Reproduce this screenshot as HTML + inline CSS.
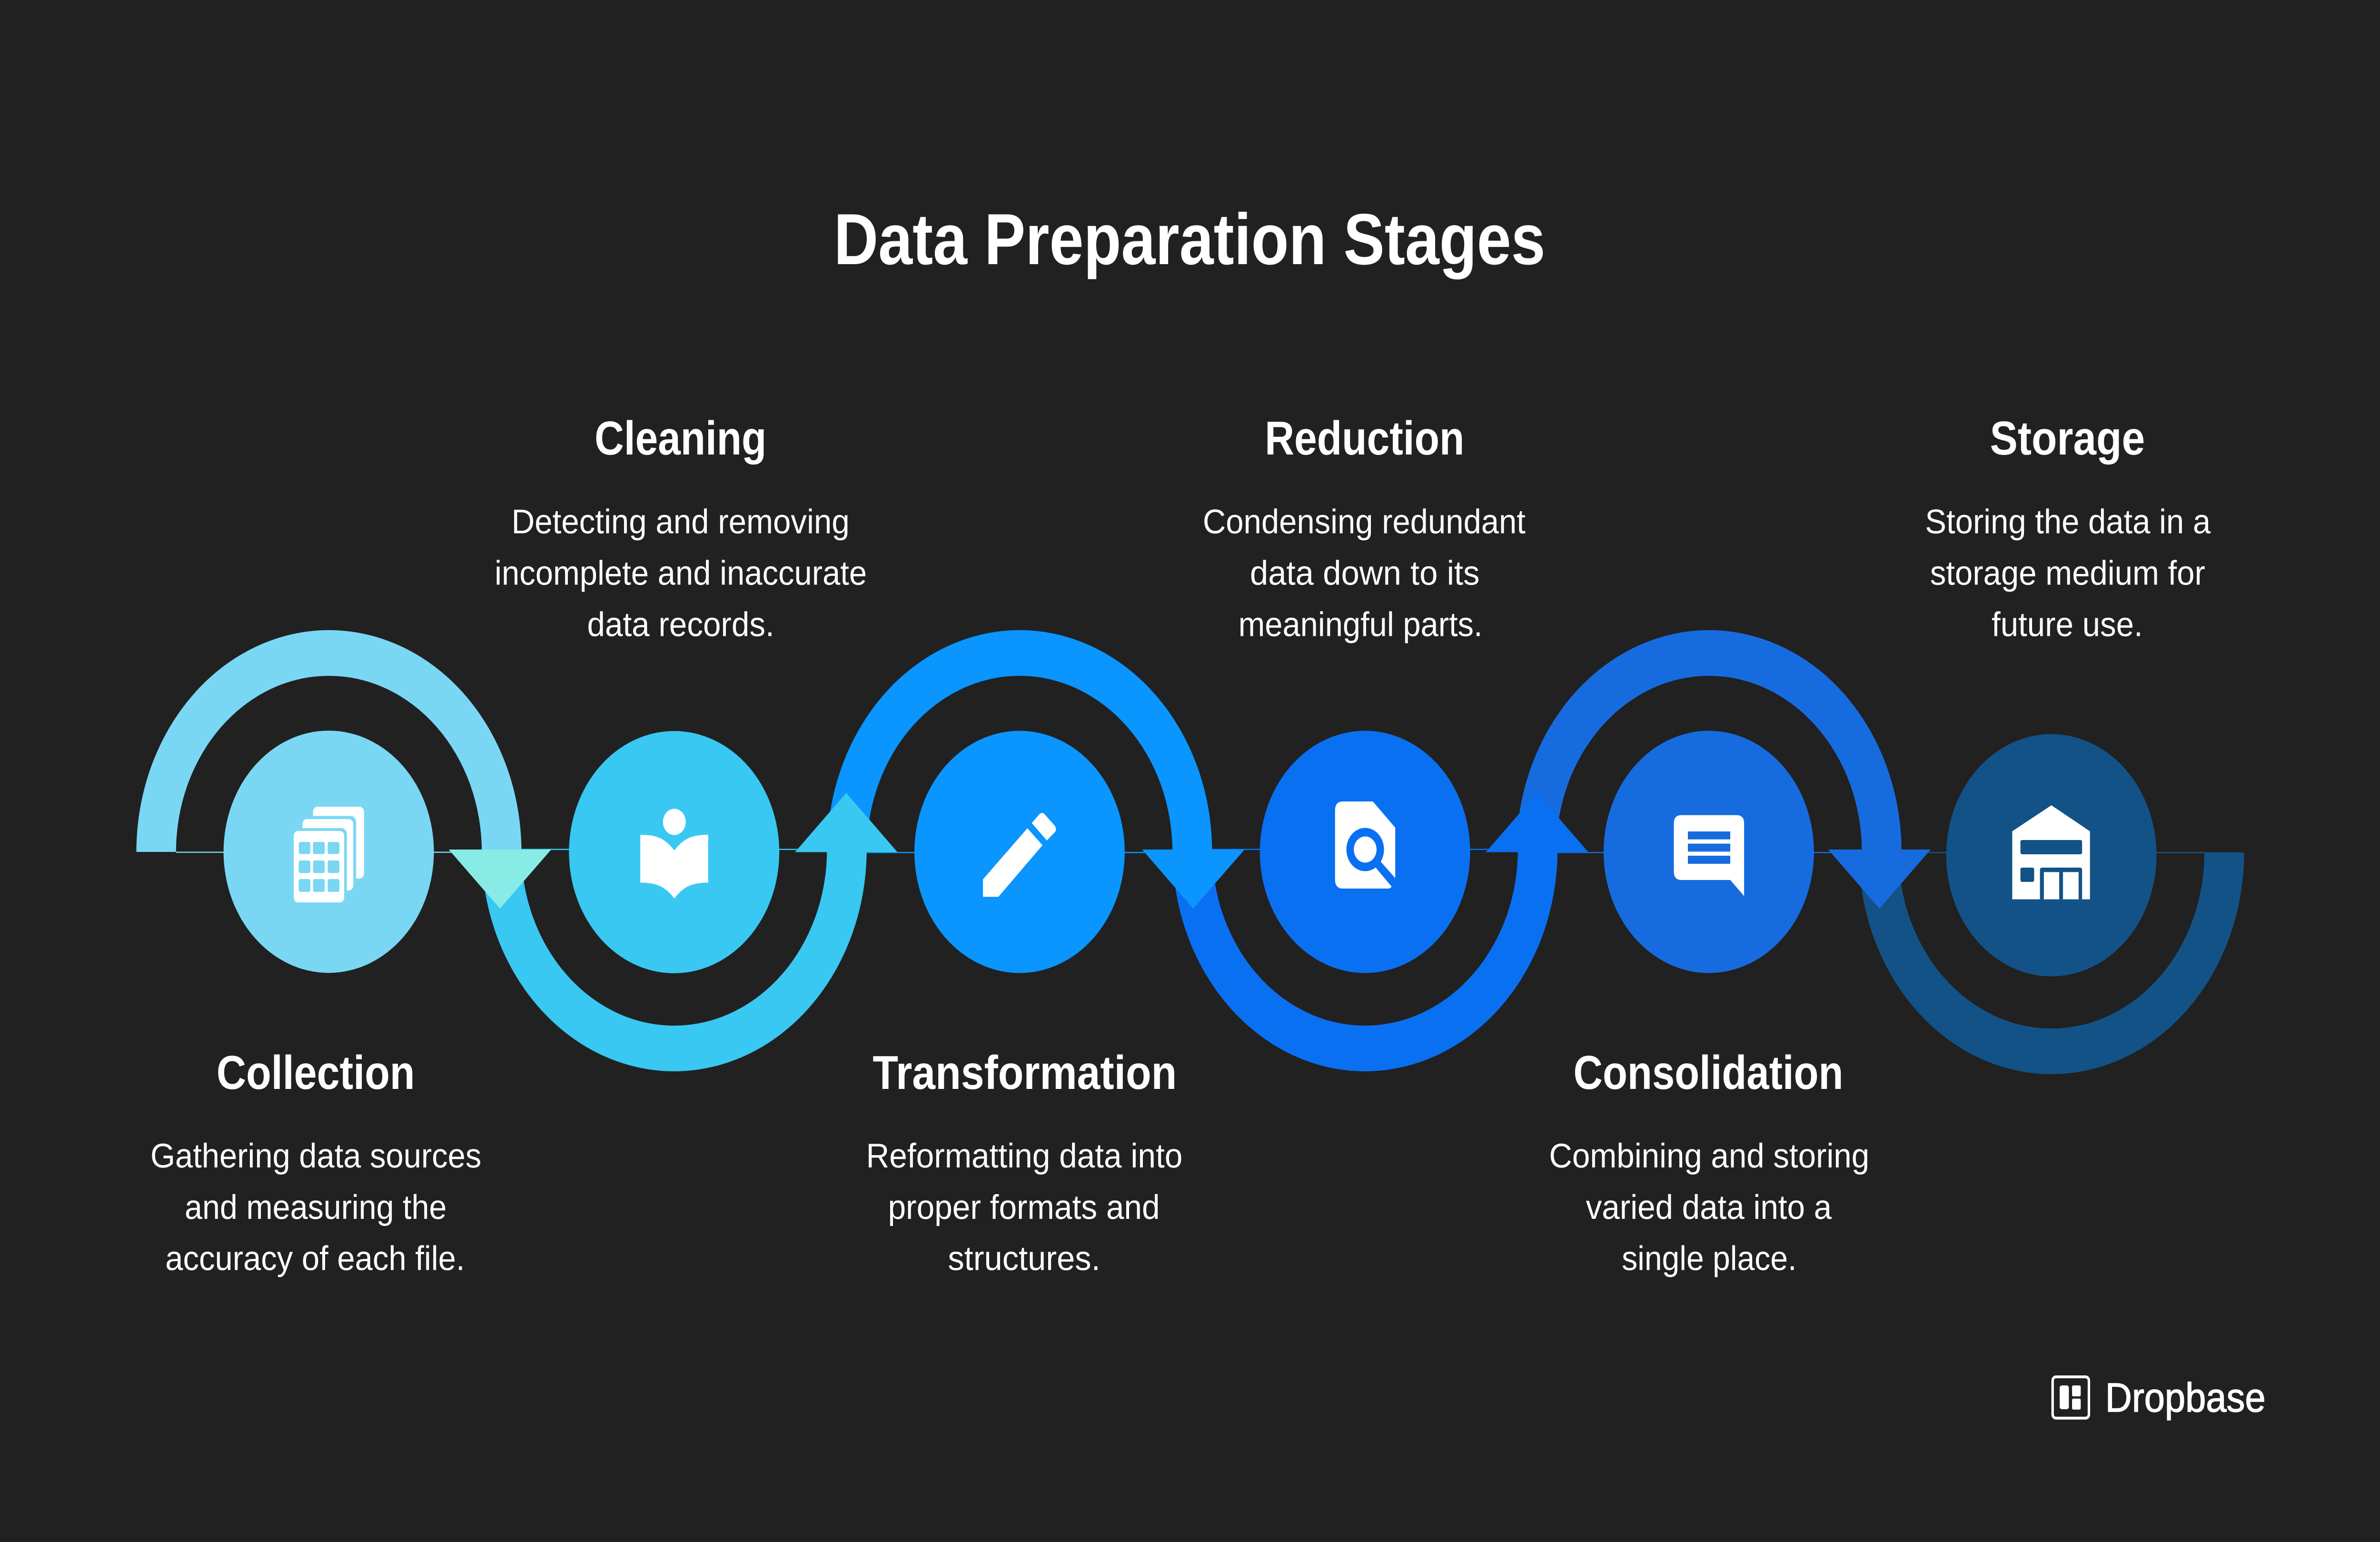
<!DOCTYPE html>
<html lang="en">
<head>
<meta charset="utf-8">
<title>Data Preparation Stages</title>
<style>
html,body{margin:0;padding:0;width:100%;height:100%;background:#212121;overflow:hidden}
svg{display:block;position:fixed;left:0;top:0;width:100vw;height:100vh}
text{font-family:"Liberation Sans",Arial,sans-serif;fill:#fff;text-rendering:geometricPrecision}
.t{font-size:152px;font-weight:700}
.h{font-size:100px;font-weight:700}
.b{font-size:72px;font-weight:400}
.l{font-size:86px;font-weight:400;stroke:#fff;stroke-width:1.5px}
</style>
</head>
<body>
<svg viewBox="0 0 5760 3240" preserveAspectRatio="none" xmlns="http://www.w3.org/2000/svg">
<rect width="5760" height="3240" fill="#212121"/>

<!-- arcs -->
<path fill="#135286" d="M4499,1791 A466,466 0 0 0 5431,1791 L5335,1791 A370,370 0 0 1 4595,1791 Z"/>
<rect x="4595" y="1790" width="740" height="2.5" fill="#135286"/>
<path fill="#166CDF" d="M3670,1790 A466,466 0 0 1 4602,1790 L4506,1790 A370,370 0 0 0 3766,1790 Z"/>
<rect x="3766" y="1790" width="740" height="2.5" fill="#166CDF"/>
<path fill="#0A70F2" d="M2837.5,1785 A466,466 0 0 0 3769.5,1785 L3673.5,1785 A370,370 0 0 1 2933.5,1785 Z"/>
<rect x="2933.5" y="1783.5" width="740" height="2.5" fill="#0A70F2"/>
<path fill="#0A95FF" d="M2001.5,1790 A466,466 0 0 1 2933.5,1790 L2837.5,1790 A370,370 0 0 0 2097.5,1790 Z"/>
<rect x="2097.5" y="1790" width="740" height="2.5" fill="#0A95FF"/>
<path fill="#38C8F2" d="M1165.5,1785 A466,466 0 0 0 2097.5,1785 L2001.5,1785 A370,370 0 0 1 1261.5,1785 Z"/>
<rect x="1261.5" y="1783.5" width="740" height="2.5" fill="#38C8F2"/>
<path fill="#7AD7F4" d="M330,1790 A466,466 0 0 1 1262,1790 L1166,1790 A370,370 0 0 0 426,1790 Z"/>
<rect x="426" y="1789.5" width="740" height="2.5" fill="#7AD7F4"/>

<!-- circles -->
<circle cx="795.5" cy="1789.7" r="254.5" fill="#7AD7F4"/>
<circle cx="1631.5" cy="1790.5" r="254.5" fill="#38C8F2"/>
<circle cx="2467.5" cy="1790" r="254.5" fill="#0A95FF"/>
<circle cx="3303.5" cy="1790" r="254.5" fill="#0A70F2"/>
<circle cx="4135.5" cy="1790" r="254.5" fill="#166CDF"/>
<circle cx="4964.6" cy="1797" r="254.5" fill="#135286"/>

<!-- arrowheads -->
<polygon fill="#88EBE6" points="1086,1785 1334,1785 1210,1909"/>
<polygon fill="#38C8F2" points="1924,1790.5 2172,1790.5 2048,1666"/>
<polygon fill="#0A95FF" points="2764,1785 3012,1785 2888,1909"/>
<polygon fill="#0A70F2" points="3596,1790.5 3844,1790.5 3720,1666.5"/>
<polygon fill="#166CDF" points="4424.5,1785 4672.5,1785 4548.5,1909"/>

<!-- icon 1 -->
<rect x="757.5" y="1695" width="123.5" height="151" rx="11" fill="#fff"/>
<rect x="722" y="1714.5" width="140" height="170" rx="13" fill="#7AD7F4"/>
<rect x="732" y="1721" width="123" height="150" rx="11" fill="#fff"/>
<rect x="700" y="1740" width="139.5" height="170" rx="13" fill="#7AD7F4"/>
<rect x="711" y="1746" width="122" height="150" rx="10" fill="#fff"/>
<g fill="#7AD7F4">
<rect x="723" y="1769" width="28" height="25.5" rx="4"/><rect x="757.5" y="1769" width="28.5" height="25.5" rx="4"/><rect x="793" y="1769" width="28.5" height="25.5" rx="4"/>
<rect x="723" y="1808" width="28" height="26.5" rx="4"/><rect x="757.5" y="1808" width="28.5" height="26.5" rx="4"/><rect x="793" y="1808" width="28.5" height="26.5" rx="4"/>
<rect x="723" y="1847" width="28" height="27" rx="4"/><rect x="757.5" y="1847" width="28.5" height="27" rx="4"/><rect x="793" y="1847" width="28.5" height="27" rx="4"/>
</g>

<!-- icon 2 -->
<circle cx="1632" cy="1727" r="27.6" fill="#fff"/>
<path fill="#fff" d="M1549.6,1754 C1590,1754 1610,1762 1632,1787 C1654,1762 1674,1754 1714,1754 L1714,1854.6 C1674,1854.6 1654,1863 1632,1888 C1610,1863 1590,1854.6 1549.6,1854.6 Z"/>

<!-- icon 3 -->
<polygon fill="#fff" points="2379,1847.6 2379,1884.4 2416.3,1884.4 2523,1775.9 2486.5,1740.3"/>
<path fill="#fff" d="M2497,1729.4 L2516,1710.4 Q2521,1706.5 2526.4,1709.3 L2552.4,1734.6 Q2558,1741 2553.8,1747.8 L2533.5,1766 Z"/>

<!-- icon 4 -->
<path fill="#fff" d="M3250,1684 L3322.4,1684 L3376.7,1739 L3376.7,1845 L3342,1811 L3304,1785 L3329.5,1823 L3368,1863 Q3365,1867 3360,1867 L3250,1867 Q3231,1867 3231,1848 L3231,1703 Q3231,1684 3250,1684 Z"/>
<circle cx="3304" cy="1785" r="45.5" fill="#0A70F2"/>
<circle cx="3304" cy="1785" r="27.5" fill="#fff"/>

<!-- icon 5 -->
<path fill="#fff" d="M4069,1712.7 H4203 Q4221,1712.7 4221,1730 V1882.7 L4187.6,1849 H4069 Q4051,1849 4051,1831 V1730 Q4051,1712.7 4069,1712.7 Z"/>
<g fill="#166CDF">
<rect x="4085" y="1747" width="102.5" height="16.7"/>
<rect x="4085" y="1772.7" width="102.5" height="16.7"/>
<rect x="4085" y="1798" width="102.5" height="17"/>
</g>

<!-- icon 6 -->
<polygon fill="#fff" points="4964.7,1692 5058,1746.6 5058,1889.6 4870,1889.6 4870,1746.6"/>
<g fill="#135286">
<rect x="4889.7" y="1765" width="149.3" height="30" rx="4"/>
<rect x="4889.7" y="1823" width="33.3" height="30" rx="4"/>
<path d="M4937,1889.6 V1828 Q4937,1823 4942,1823 H5034 Q5039,1823 5039,1828 V1889.6 H5030.6 V1832.4 H4992.8 V1889.6 H4983.6 V1832.4 H4946.5 V1889.6 Z"/>
</g>

<!-- logo -->
<rect x="4967.7" y="2893" width="87.8" height="86.7" rx="8" fill="none" stroke="#fff" stroke-width="6"/>
<rect x="4984.8" y="2911" width="22.2" height="50" rx="5" fill="#fff"/>
<rect x="5014.7" y="2911" width="21" height="23" rx="3" fill="#fff"/>
<rect x="5014.7" y="2938.7" width="21" height="23" rx="3" fill="#fff"/>
<text class="l" x="5095" y="2966" textLength="388" lengthAdjust="spacingAndGlyphs">Dropbase</text>

<!-- title -->
<text class="t" x="2018" y="555" textLength="1722" lengthAdjust="spacingAndGlyphs">Data Preparation Stages</text>

<!-- headings -->
<text class="h" x="1439" y="955" textLength="416" lengthAdjust="spacingAndGlyphs">Cleaning</text>
<text class="h" x="3061" y="955" textLength="483" lengthAdjust="spacingAndGlyphs">Reduction</text>
<text class="h" x="4816" y="955" textLength="375" lengthAdjust="spacingAndGlyphs">Storage</text>
<text class="h" x="524" y="2288" textLength="480" lengthAdjust="spacingAndGlyphs">Collection</text>
<text class="h" x="2112" y="2288" textLength="736" lengthAdjust="spacingAndGlyphs">Transformation</text>
<text class="h" x="3808" y="2288" textLength="653" lengthAdjust="spacingAndGlyphs">Consolidation</text>

<!-- top bodies -->
<text class="b" x="1238" y="1120.6" textLength="818" lengthAdjust="spacingAndGlyphs">Detecting and removing</text>
<text class="b" x="1197" y="1228.4" textLength="901" lengthAdjust="spacingAndGlyphs">incomplete and inaccurate</text>
<text class="b" x="1421" y="1336.6" textLength="453" lengthAdjust="spacingAndGlyphs">data records.</text>

<text class="b" x="2911" y="1120.6" textLength="781" lengthAdjust="spacingAndGlyphs">Condensing redundant</text>
<text class="b" x="3025" y="1228.4" textLength="556" lengthAdjust="spacingAndGlyphs">data down to its</text>
<text class="b" x="2997" y="1336.6" textLength="591" lengthAdjust="spacingAndGlyphs">meaningful parts.</text>

<text class="b" x="4659" y="1120.6" textLength="691" lengthAdjust="spacingAndGlyphs">Storing the data in a</text>
<text class="b" x="4671" y="1228.4" textLength="666" lengthAdjust="spacingAndGlyphs">storage medium for</text>
<text class="b" x="4820" y="1336.6" textLength="366" lengthAdjust="spacingAndGlyphs">future use.</text>

<!-- bottom bodies -->
<text class="b" x="364" y="2453" textLength="801" lengthAdjust="spacingAndGlyphs">Gathering data sources</text>
<text class="b" x="447" y="2561" textLength="634" lengthAdjust="spacingAndGlyphs">and measuring the</text>
<text class="b" x="400" y="2668.6" textLength="725" lengthAdjust="spacingAndGlyphs">accuracy of each file.</text>

<text class="b" x="2096" y="2453" textLength="766" lengthAdjust="spacingAndGlyphs">Reformatting data into</text>
<text class="b" x="2149" y="2561" textLength="658" lengthAdjust="spacingAndGlyphs">proper formats and</text>
<text class="b" x="2294" y="2668.6" textLength="369" lengthAdjust="spacingAndGlyphs">structures.</text>

<text class="b" x="3749" y="2453" textLength="775" lengthAdjust="spacingAndGlyphs">Combining and storing</text>
<text class="b" x="3838" y="2561" textLength="595" lengthAdjust="spacingAndGlyphs">varied data into a</text>
<text class="b" x="3925" y="2668.6" textLength="423" lengthAdjust="spacingAndGlyphs">single place.</text>
</svg>
</body>
</html>
